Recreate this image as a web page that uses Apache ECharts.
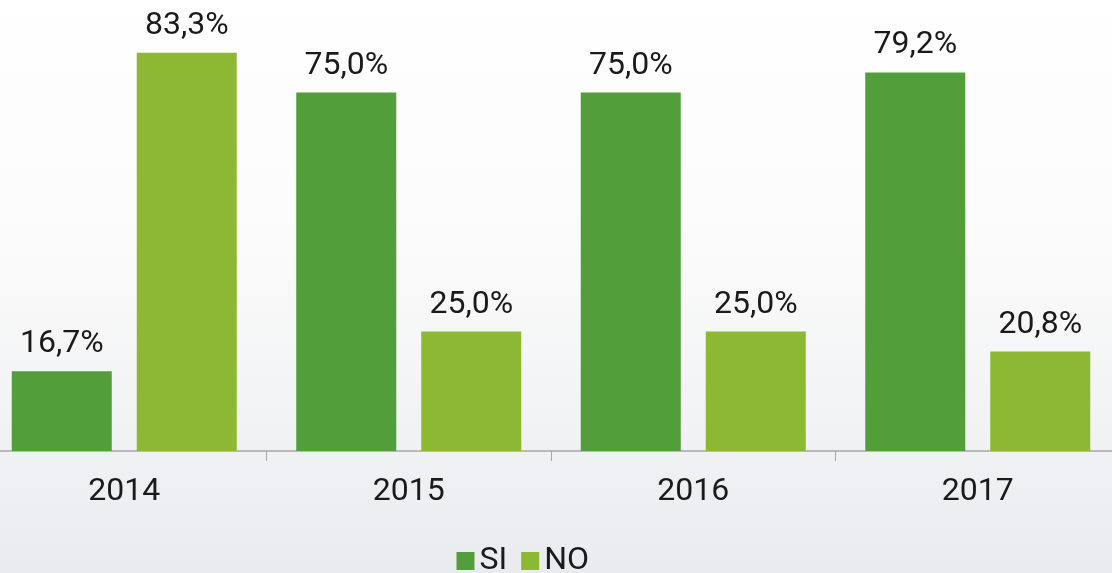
<!DOCTYPE html>
<html>
<head>
<meta charset="utf-8">
<script src="https://cdn.jsdelivr.net/npm/echarts@6/dist/echarts.min.js"></script>
<style>
  html, body { margin: 0; padding: 0; overflow: hidden; width: 1112px; height: 573px; }
  /* plot reaches a little beyond the picture on the left, right and top */
  #chart { position: absolute; left: -18.5px; top: -27px; width: 1138px; height: 600px; }
</style>
</head>
<body>
<div id="chart"></div>
<script>
  // values (percent)
  const years = ['2014', '2015', '2016', '2017'];
  const siValues = [16.7, 75.0, 75.0, 79.2];
  const noValues = [83.3, 25.0, 25.0, 20.8];

  const fmt = p => p.value.toFixed(1).replace('.', ',') + '%';

  const chart = echarts.init(document.getElementById('chart'));
  const labelStyle = {
    show: true,
    position: 'top',
    distance: 11,
    fontFamily: 'Roboto',
    fontSize: 32,
    color: '#1a1a1a',
    formatter: fmt
  };

  chart.setOption({
    backgroundColor: new echarts.graphic.LinearGradient(0, 0, 0, 1, [
      { offset: 0, color: '#ffffff' },
      { offset: 0.45, color: '#fbfbfb' },
      { offset: 0.8, color: '#f0f1f3' },
      { offset: 1, color: '#e9ebee' }
    ]),
    animation: false,
    grid: { left: 0, right: 0, top: 0, bottom: 122 },
    legend: {
      top: 572,
      left: 474.5,
      padding: 0,
      itemWidth: 18,
      itemHeight: 18,
      itemGap: 14,
      icon: 'rect',
      textStyle: { fontFamily: 'Roboto', fontSize: 32, color: '#1a1a1a' },
      data: ['SI', 'NO']
    },
    xAxis: {
      type: 'category',
      data: years,
      axisLine: { lineStyle: { color: '#a6a6a6', width: 1.5 } },
      axisTick: { show: true, length: 10, lineStyle: { color: '#a6a6a6' } },
      axisLabel: { fontFamily: 'Roboto', fontSize: 32, color: '#1a1a1a', margin: 25 }
    },
    yAxis: {
      type: 'value',
      min: 0,
      max: 100,
      show: false,
      splitLine: { show: false }
    },
    series: [
      {
        name: 'SI',
        type: 'bar',
        data: siValues,
        barWidth: 100,
        barGap: '25%',
        itemStyle: { color: '#529e3b' },
        label: labelStyle
      },
      {
        name: 'NO',
        type: 'bar',
        data: noValues,
        barWidth: 100,
        itemStyle: { color: '#8cb834' },
        label: labelStyle
      }
    ]
  });
</script>
</body>
</html>
